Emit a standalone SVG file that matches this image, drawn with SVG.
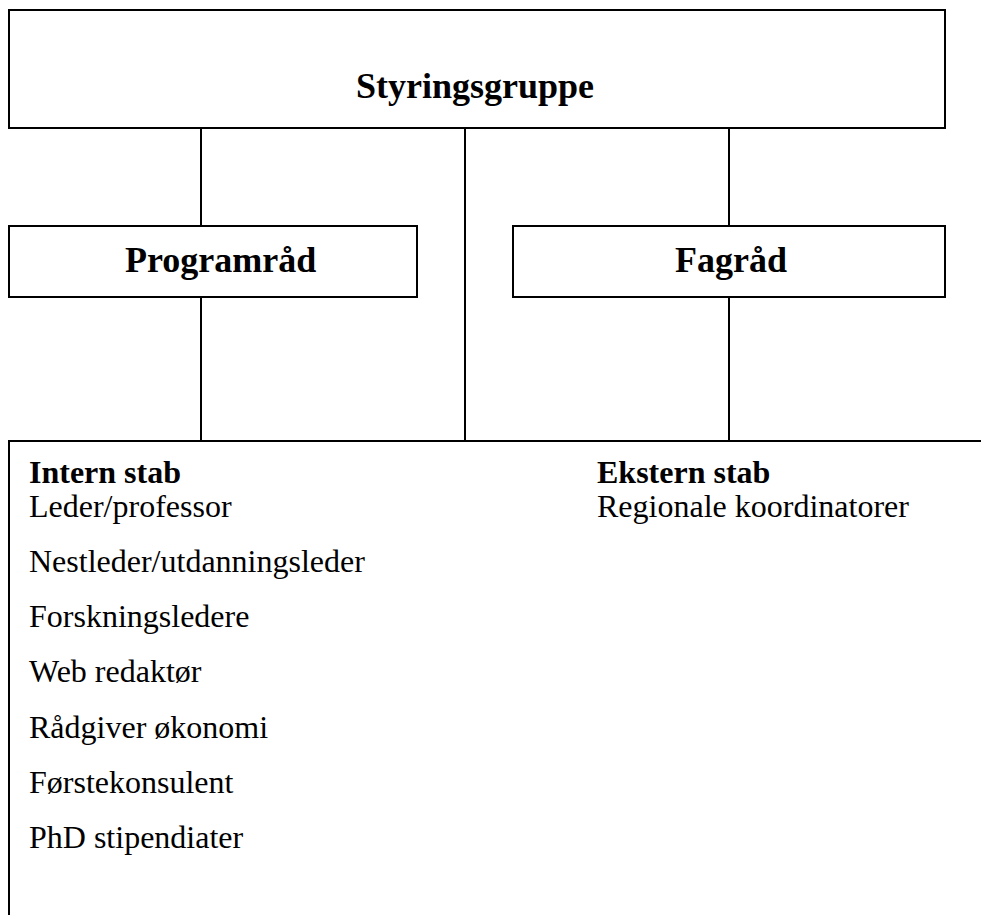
<svg xmlns="http://www.w3.org/2000/svg" width="981" height="915" viewBox="0 0 981 915">
<style>
.box{fill:#fff;stroke:#000;stroke-width:2}
.ln{stroke:#000;stroke-width:2;fill:none}
.title{font-family:"Liberation Serif","Times New Roman",serif;font-weight:bold;font-size:36px;fill:#000}
.h{font-family:"Liberation Serif","Times New Roman",serif;font-weight:bold;font-size:32px;fill:#000}
.t{font-family:"Liberation Serif","Times New Roman",serif;font-size:32px;fill:#000}
</style>
<rect width="981" height="915" fill="#fff"/>
<g id="connectors">
<line class="ln" x1="201" y1="128" x2="201" y2="226"/>
<line class="ln" x1="201" y1="297" x2="201" y2="441"/>
<line class="ln" x1="465" y1="128" x2="465" y2="441"/>
<line class="ln" x1="729" y1="128" x2="729" y2="226"/>
<line class="ln" x1="729" y1="297" x2="729" y2="441"/>
</g>
<g id="styringsgruppe">
<rect class="box" x="9" y="10" width="936" height="118"/>
<text class="title" x="475" y="98" text-anchor="middle">Styringsgruppe</text>
</g>
<g id="programraad">
<rect class="box" x="9" y="226" width="408" height="71"/>
<text class="title" x="125" y="272">Programråd</text>
</g>
<g id="fagraad">
<rect class="box" x="513" y="226" width="432" height="71"/>
<text class="title" x="731" y="272" text-anchor="middle">Fagråd</text>
</g>
<g id="stab">
<line class="ln" x1="8" y1="441" x2="981" y2="441"/>
<line class="ln" x1="9" y1="440" x2="9" y2="915"/>
<text class="h" x="29" y="483">Intern stab</text>
<text class="t" x="29" y="517">Leder/professor</text>
<text class="t" x="29" y="572">Nestleder/utdanningsleder</text>
<text class="t" x="29" y="627">Forskningsledere</text>
<text class="t" x="29" y="682">Web redaktør</text>
<text class="t" x="29" y="738">Rådgiver økonomi</text>
<text class="t" x="29" y="793">Førstekonsulent</text>
<text class="t" x="29" y="848">PhD stipendiater</text>
<text class="h" x="597" y="483">Ekstern stab</text>
<text class="t" x="597" y="517">Regionale koordinatorer</text>
</g>
</svg>
